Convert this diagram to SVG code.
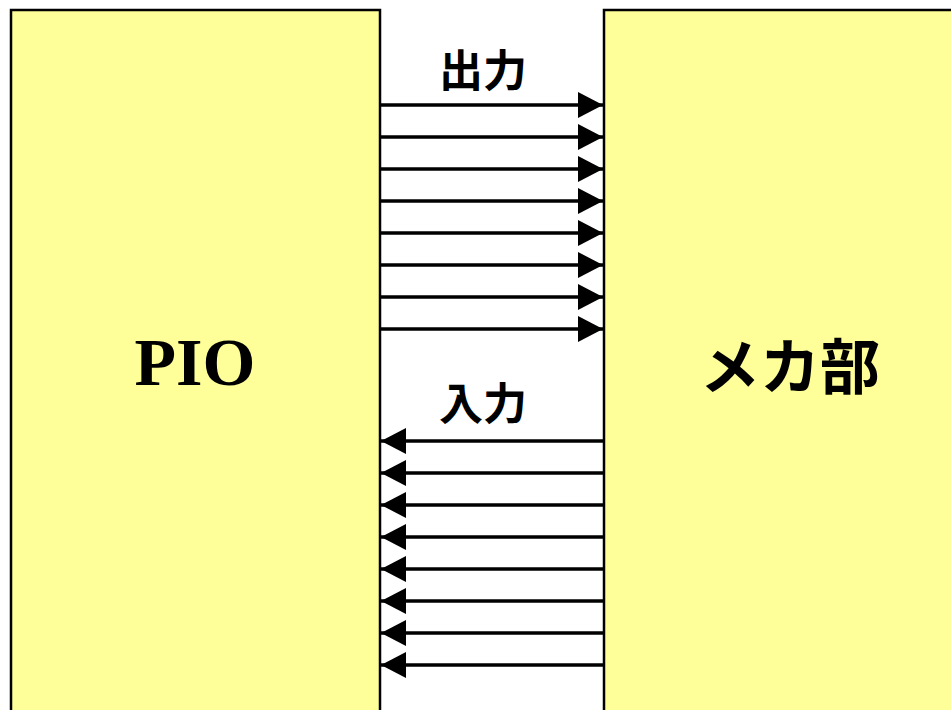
<svg xmlns="http://www.w3.org/2000/svg" width="951" height="710" viewBox="0 0 951 710">
<defs>
<style>
.box{fill:#FFFF99;stroke:#000;stroke-width:2.5}
.ln{stroke:#000;stroke-width:3.5;fill:none}
.ah{fill:#000}
.jp{font-family:"Noto Sans CJK JP","Noto Sans CJK SC",sans-serif;text-anchor:middle;fill:#000}
.pio{font-family:"Liberation Serif",serif;font-weight:bold;font-size:68px;text-anchor:middle;fill:#000}
</style>
<marker id="arr" markerWidth="25" markerHeight="26" refX="25" refY="13" orient="auto" markerUnits="userSpaceOnUse">
<path class="ah" d="M0,0 L25,13 L0,26 Z"/>
</marker>
</defs>
<g id="pio">
<rect class="box" x="11" y="10" width="369" height="720"/>
<text class="pio" x="195" y="385">PIO</text>
</g>
<g id="mecha">
<rect class="box" x="604" y="10" width="370" height="720"/>
<text class="jp" x="790" y="389" font-size="60" font-weight="bold">メカ部</text>
</g>
<g id="labels">
<text class="jp" x="483" y="87" font-size="44" font-weight="bold">出力</text>
<text class="jp" x="483" y="420" font-size="44" font-weight="bold">入力</text>
</g>
<g id="connectors">
<line class="ln" x1="381" y1="105" x2="603" y2="105" marker-end="url(#arr)"/>
<line class="ln" x1="381" y1="137" x2="603" y2="137" marker-end="url(#arr)"/>
<line class="ln" x1="381" y1="169" x2="603" y2="169" marker-end="url(#arr)"/>
<line class="ln" x1="381" y1="201" x2="603" y2="201" marker-end="url(#arr)"/>
<line class="ln" x1="381" y1="233" x2="603" y2="233" marker-end="url(#arr)"/>
<line class="ln" x1="381" y1="265" x2="603" y2="265" marker-end="url(#arr)"/>
<line class="ln" x1="381" y1="297" x2="603" y2="297" marker-end="url(#arr)"/>
<line class="ln" x1="381" y1="329" x2="603" y2="329" marker-end="url(#arr)"/>
<line class="ln" x1="603" y1="441" x2="381" y2="441" marker-end="url(#arr)"/>
<line class="ln" x1="603" y1="473" x2="381" y2="473" marker-end="url(#arr)"/>
<line class="ln" x1="603" y1="505" x2="381" y2="505" marker-end="url(#arr)"/>
<line class="ln" x1="603" y1="537" x2="381" y2="537" marker-end="url(#arr)"/>
<line class="ln" x1="603" y1="569" x2="381" y2="569" marker-end="url(#arr)"/>
<line class="ln" x1="603" y1="601" x2="381" y2="601" marker-end="url(#arr)"/>
<line class="ln" x1="603" y1="633" x2="381" y2="633" marker-end="url(#arr)"/>
<line class="ln" x1="603" y1="665" x2="381" y2="665" marker-end="url(#arr)"/>
</g>
</svg>
